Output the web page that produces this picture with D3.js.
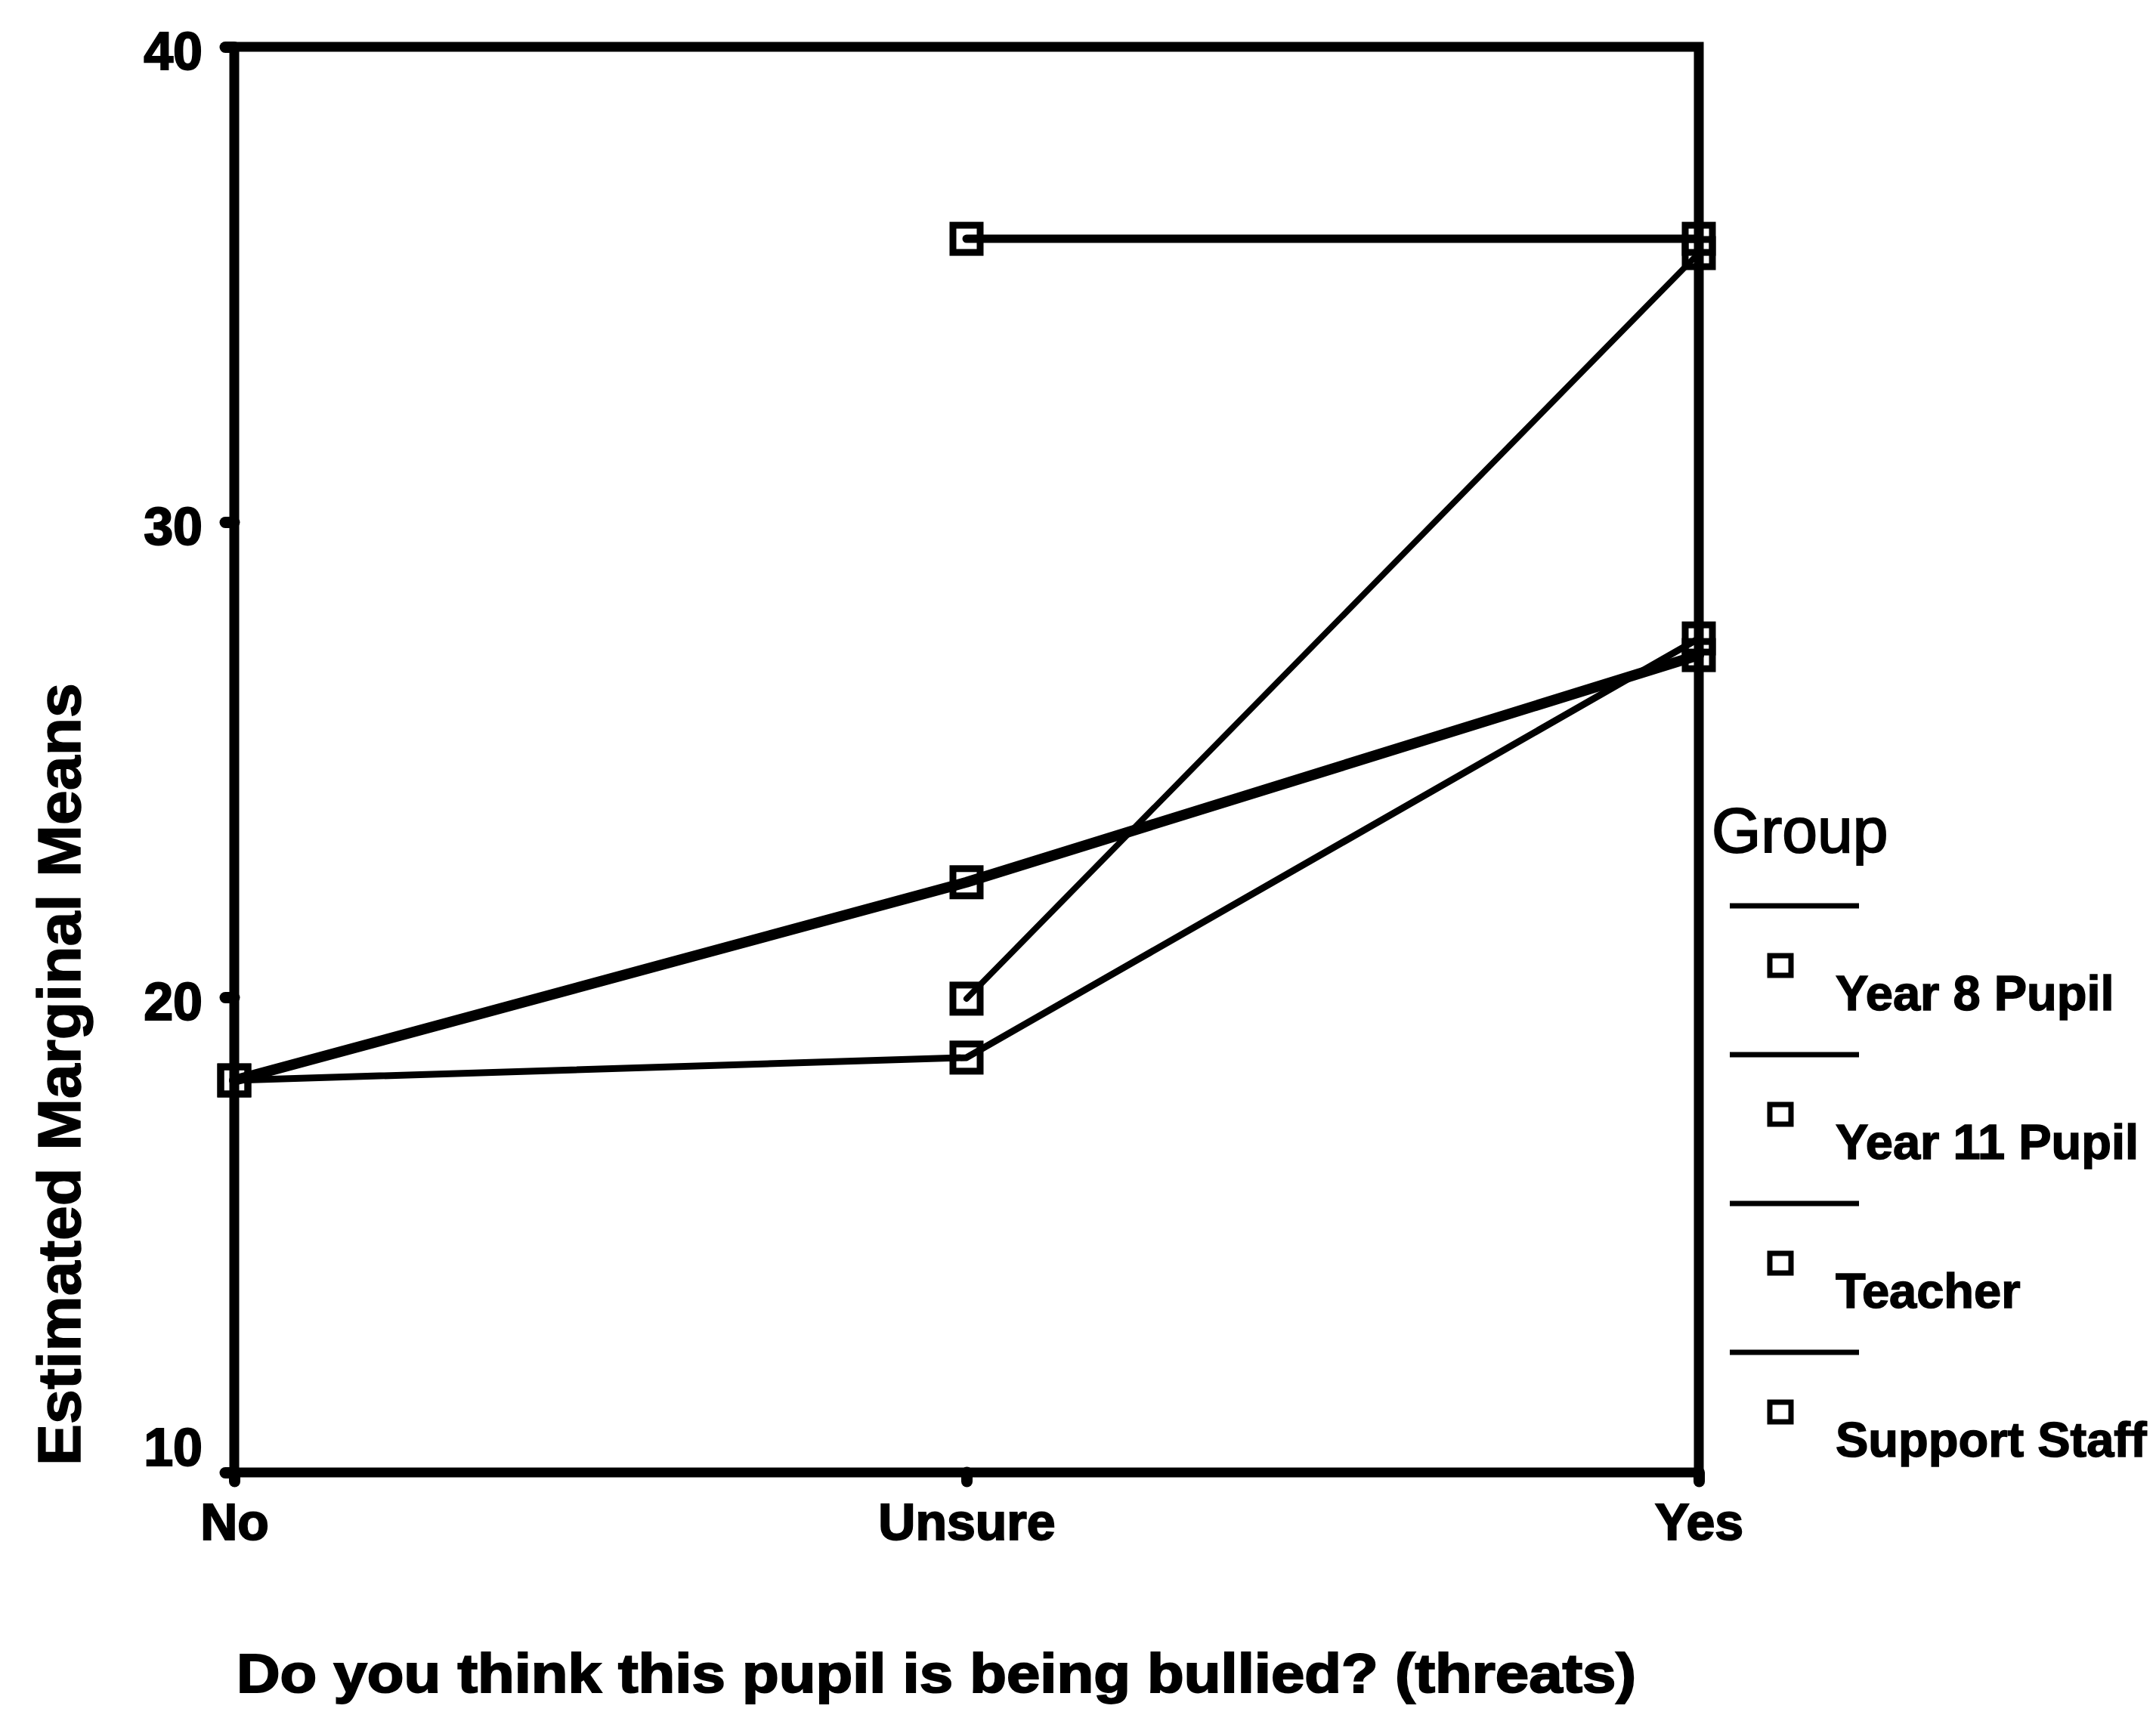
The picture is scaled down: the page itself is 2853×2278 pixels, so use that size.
<!DOCTYPE html>
<html>
<head>
<meta charset="utf-8">
<script src="https://cdn.jsdelivr.net/npm/d3@7"></script>
<style>
  html, body { margin: 0; padding: 0; background: #fff; }
  svg { display: block; }
  text { font-family: "Liberation Sans", Arial, sans-serif; fill: #000; }
</style>
</head>
<body>
<svg id="chart" width="2853" height="2278"></svg>
<script>
// Response categories on the x axis
const categories = ["No", "Unsure", "Yes"];

// Group names, in legend order
const groups = ["Year 8 Pupil", "Year 11 Pupil", "Teacher", "Support Staff"];

// Estimated marginal means per group (null = no estimate for that category)
const year8Pupil   = [18.25, 18.73, 27.55];
const year11Pupil  = [null, 19.97, 35.66];
const teacher      = [18.25, 22.42, 27.2];
const supportStaff = [null, 35.96, 35.96];

// Y axis tick values
const yTicks = [10, 20, 30, 40];

const seriesValues = [year8Pupil, year11Pupil, teacher, supportStaff];
const lineWidths = [9, 8, 14, 11];

const svg = d3.select("#chart");
svg.append("rect").attr("width", 2853).attr("height", 2278).attr("fill", "#fff");

const plot = { left: 310, right: 2248, top: 62, bottom: 1949 };

const x = d3.scalePoint().domain(categories).range([plot.left, plot.right]);
const y = d3.scaleLinear().domain([10, 40]).range([plot.bottom, plot.top]);

// Data lines
const line = d3.line()
  .defined(d => d.v !== null)
  .x(d => x(d.c))
  .y(d => y(d.v));

const seriesG = svg.append("g");
seriesValues.forEach((vals, i) => {
  const pts = categories.map((c, j) => ({ c, v: vals[j] }));
  seriesG.append("path")
    .datum(pts)
    .attr("d", line)
    .attr("fill", "none")
    .attr("stroke", "#000")
    .attr("stroke-width", lineWidths[i])
    .attr("stroke-linejoin", "round")
    .attr("stroke-linecap", "round");
});

// Square markers
const markerSize = 36;
seriesValues.forEach((vals) => {
  const pts = categories.map((c, j) => ({ c, v: vals[j] })).filter(d => d.v !== null);
  seriesG.selectAll(null)
    .data(pts)
    .enter()
    .append("rect")
    .attr("x", d => x(d.c) - markerSize / 2)
    .attr("y", d => y(d.v) - markerSize / 2)
    .attr("width", markerSize)
    .attr("height", markerSize)
    .attr("fill", "none")
    .attr("stroke", "#000")
    .attr("stroke-width", 9);
});

// Frame around the plot area
svg.append("rect")
  .attr("x", plot.left)
  .attr("y", plot.top)
  .attr("width", plot.right - plot.left)
  .attr("height", plot.bottom - plot.top)
  .attr("fill", "none")
  .attr("stroke", "#000")
  .attr("stroke-width", 13);

// Y axis
const yAxis = svg.append("g")
  .attr("transform", `translate(${plot.left},0)`)
  .call(d3.axisLeft(y).tickValues(yTicks).tickFormat(d3.format("d")).tickSize(12).tickPadding(30));
yAxis.select(".domain").remove();
yAxis.selectAll(".tick line")
  .attr("stroke", "#000").attr("stroke-width", 15).attr("stroke-linecap", "round");
yAxis.selectAll(".tick text")
  .attr("font-size", 70)
  .attr("font-weight", "bold")
  .attr("font-family", "Liberation Sans, Arial, sans-serif")
  .attr("stroke", "#000").attr("stroke-width", 2)
  .attr("dy", d => d === 10 ? "-0.13em" : "0.42em");

// X axis
const xAxis = svg.append("g")
  .attr("transform", `translate(0,${plot.bottom})`)
  .call(d3.axisBottom(x).tickSize(12).tickPadding(29));
xAxis.select(".domain").remove();
xAxis.selectAll(".tick line")
  .attr("stroke", "#000").attr("stroke-width", 15).attr("stroke-linecap", "round");
xAxis.selectAll(".tick text")
  .attr("font-size", 68)
  .attr("font-weight", "bold")
  .attr("font-family", "Liberation Sans, Arial, sans-serif")
  .attr("stroke", "#000").attr("stroke-width", 2);

// Axis titles
svg.append("text")
  .attr("transform", "translate(106,1422) rotate(-90)")
  .attr("text-anchor", "middle")
  .attr("font-size", 80)
  .attr("font-weight", "bold")
  .attr("stroke", "#000").attr("stroke-width", 1.5)
  .attr("textLength", 1036)
  .attr("lengthAdjust", "spacingAndGlyphs")
  .text("Estimated Marginal Means");

svg.append("text")
  .attr("x", 313)
  .attr("y", 2240)
  .attr("font-size", 72)
  .attr("font-weight", "bold")
  .attr("stroke", "#000").attr("stroke-width", 2)
  .attr("textLength", 1852)
  .attr("lengthAdjust", "spacingAndGlyphs")
  .text("Do you think this pupil is being bullied? (threats)");

// Legend
const legend = svg.append("g").attr("transform", "translate(2265,0)");
legend.append("text")
  .attr("x", 0)
  .attr("y", 1128)
  .attr("font-size", 84)
  .attr("stroke", "#000").attr("stroke-width", 2)
  .text("Group");

const itemTop = 1199, itemStep = 197;
groups.forEach((g, i) => {
  const y0 = itemTop + i * itemStep;
  legend.append("line")
    .attr("x1", 24).attr("x2", 195)
    .attr("y1", y0).attr("y2", y0)
    .attr("stroke", "#000").attr("stroke-width", 7);
  legend.append("rect")
    .attr("x", 77).attr("y", y0 + 80 - 14)
    .attr("width", 28).attr("height", 26)
    .attr("fill", "none").attr("stroke", "#000").attr("stroke-width", 7);
  legend.append("text")
    .attr("x", 164)
    .attr("y", y0 + 138)
    .attr("font-size", 65)
    .attr("font-weight", "bold")
    .attr("stroke", "#000").attr("stroke-width", 1.5)
    .text(g);
});
</script>
</body>
</html>
